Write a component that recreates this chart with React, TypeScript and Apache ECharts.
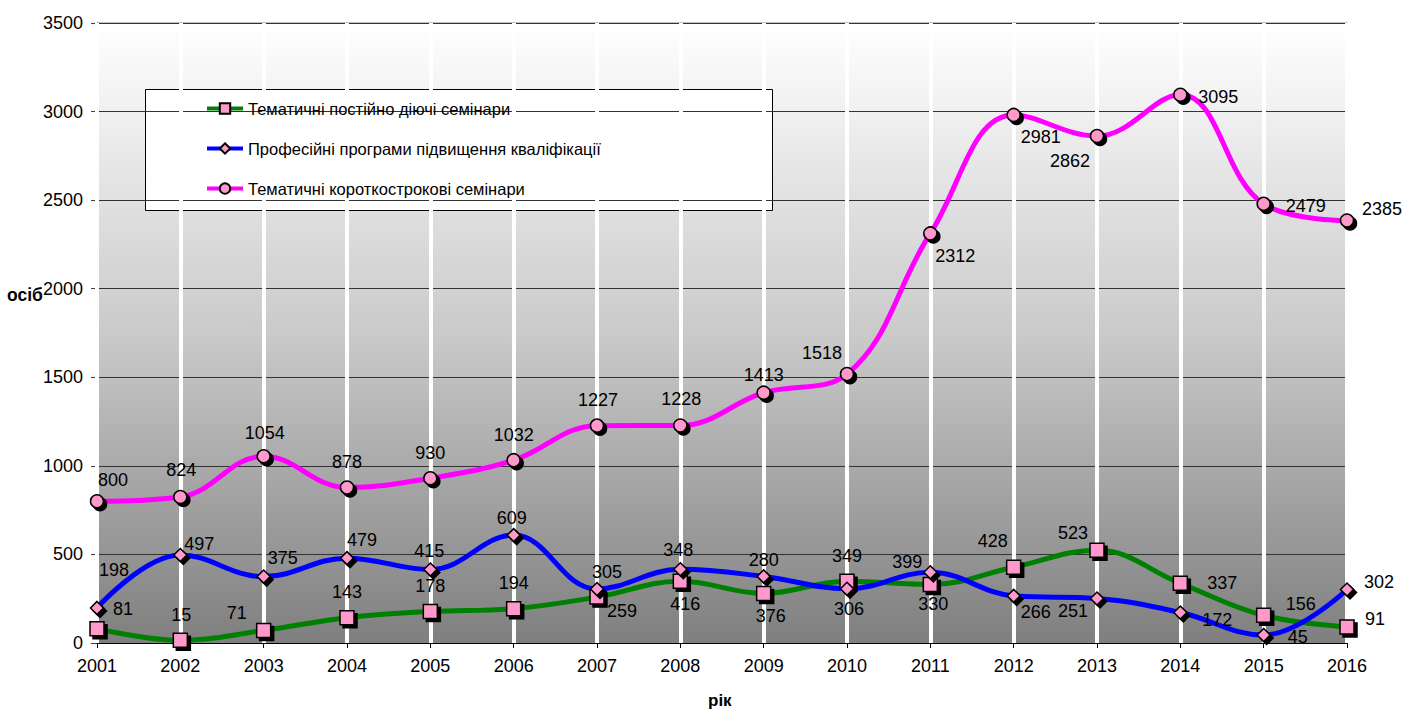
import React, { useEffect, useRef } from "react";
import * as echarts from "echarts";

const years = ["2001", "2002", "2003", "2004", "2005", "2006", "2007", "2008", "2009", "2010", "2011", "2012", "2013", "2014", "2015", "2016"];
const seriesNames = [
  "Тематичні постійно діючі семінари",
  "Професійні програми підвищення кваліфікації",
  "Тематичні короткострокові семінари",
];
const permanentSeminars = [81, 15, 71, 143, 178, 194, 259, 348, 280, 349, 330, 428, 523, 337, 156, 91];
const professionalPrograms = [198, 497, 375, 479, 415, 609, 305, 416, 376, 306, 399, 266, 251, 172, 45, 302];
const shortSeminars = [800, 824, 1054, 878, 930, 1032, 1227, 1228, 1413, 1518, 2312, 2981, 2862, 3095, 2479, 2385];
const yTicks = { min: 0, max: 3500, interval: 500 };

// label placement offsets (px) relative to each marker
const greenLabelOffsets = [[26, -20], [1, -25], [-27, -17], [0, -26], [0, -25], [0, -26], [25, 14], [-2, -31], [0, -33], [0, -25], [3, 19], [-21, -26], [-24, -17], [42, 0], [37, -11], [28, -8]];
const blueLabelOffsets = [[17, -38], [19, -11], [19, -19], [15, -18], [-1, -18], [-2, -17], [10, -17], [5, 35], [7, 40], [2, 20], [-23, -10], [22, 16], [-24, 12], [37, 7], [34, 2], [32, -8]];
const pinkLabelOffsets = [[16, -21], [1, -27], [1, -23], [0, -25], [0, -25], [0, -25], [1, -26], [1, -26], [0, -18], [-25, -21], [25, 23], [27, 22], [-27, 25], [38, 2], [42, 2], [35, -12]];

const FONT = 'Arial, "Liberation Sans", sans-serif';

function buildData(values: number[], offsets: number[][]) {
  return values.map((v, i) => ({ value: v, label: { offset: offsets[i] } }));
}

export default function App() {
  const ref = useRef<HTMLDivElement>(null);
  useEffect(() => {
    if (!ref.current) return;
    const chart = echarts.init(ref.current, null, { renderer: "svg" });
    const markerStyle = {
      color: "#ff99cc",
      borderColor: "#000",
      borderWidth: 1.5,
      shadowColor: "#000",
      shadowOffsetX: 3,
      shadowOffsetY: 3,
      shadowBlur: 0,
    };
    const labelBase = {
      show: true,
      position: "inside",
      align: "center",
      verticalAlign: "middle",
      fontSize: 18,
      fontFamily: FONT,
      color: "#000",
    };
    const mk = (name: string, values: number[], offsets: number[][], color: string, symbol: string, size: any) => ({
      type: "line",
      name,
      data: buildData(values, offsets),
      smooth: 0.4,
      symbol,
      symbolSize: size,
      showAllSymbol: true,
      lineStyle: { color, width: 5 },
      itemStyle: { ...markerStyle },
      label: { ...labelBase },
      emphasis: { disabled: true },
    });
    chart.setOption({
      animation: false,
      backgroundColor: "#fff",
      grid: {
        left: 97,
        right: 59,
        top: 23,
        bottom: 68,
        show: true,
        borderColor: "#808080",
        borderWidth: 1,
        backgroundColor: {
          type: "linear",
          x: 0, y: 0, x2: 0, y2: 1,
          colorStops: [
            { offset: 0, color: "#ffffff" },
            { offset: 0.5, color: "#cacaca" },
            { offset: 1, color: "#7f7f7f" },
          ],
        },
      },
      legend: {
        orient: "vertical",
        left: 205,
        top: 100,
        padding: 0,
        itemWidth: 36,
        itemHeight: 13,
        itemGap: 23,
        lineStyle: { width: 4 },
        itemStyle: { shadowBlur: 0, shadowOffsetX: 0, shadowOffsetY: 0, shadowColor: "transparent" },
        textStyle: { fontSize: 16.5, fontFamily: FONT, color: "#000" },
        data: seriesNames,
        selectedMode: false,
      },
      xAxis: {
        type: "category",
        data: years,
        boundaryGap: false,
        z: 3,
        axisLine: { show: true, lineStyle: { color: "#000", width: 1 } },
        axisTick: { show: true, length: 5, lineStyle: { color: "#000" } },
        axisLabel: { fontSize: 18, fontFamily: FONT, color: "#000", margin: 14 },
        splitLine: { show: true, lineStyle: { color: "#ffffff", width: 4 } },
      },
      yAxis: {
        type: "value",
        min: yTicks.min,
        max: yTicks.max,
        interval: yTicks.interval,
        z: 1,
        axisLine: { show: true, lineStyle: { color: "#404040", width: 1 } },
        axisTick: { show: true, length: 6, lineStyle: { color: "#404040" } },
        axisLabel: { fontSize: 18, fontFamily: FONT, color: "#000", margin: 14, formatter: (v: number) => String(v) },
        splitLine: { show: true, lineStyle: { color: "#333", width: 1 } },
      },
      graphic: [
        {
          type: "rect",
          left: 145,
          top: 89,
          z: 0,
          shape: { width: 627, height: 121 },
          style: { fill: "#fff", stroke: "#000", lineWidth: 1 },
        },
        {
          type: "text",
          left: 7,
          top: 286,
          style: { text: "осіб", font: `bold 17.5px ${FONT}`, fill: "#000" },
        },
        {
          type: "text",
          left: 708,
          top: 692,
          style: { text: "рік", font: `bold 17px ${FONT}`, fill: "#000" },
        },
      ],
      series: [
        mk(seriesNames[0], permanentSeminars, greenLabelOffsets, "#008000", "rect", 14),
        mk(seriesNames[1], professionalPrograms, blueLabelOffsets, "#0000ff", "diamond", 13),
        mk(seriesNames[2], shortSeminars, pinkLabelOffsets, "#ff00ff", "circle", 13),
      ],
    });
    return () => chart.dispose();
  }, []);
  return <div ref={ref} style={{ position: "fixed", left: 0, top: 0, width: 1406, height: 711 }} />;
}
